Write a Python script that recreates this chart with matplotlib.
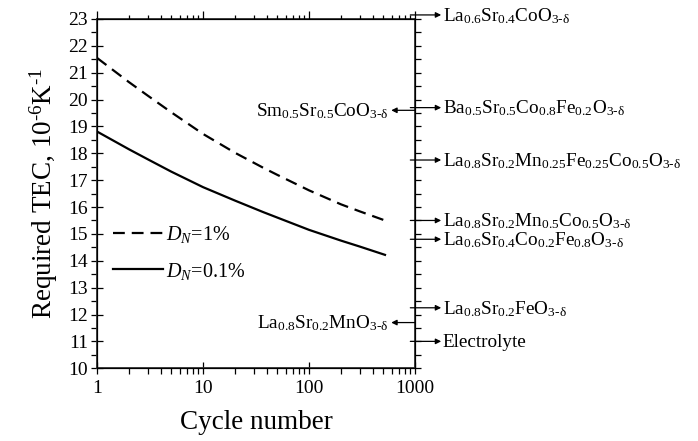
"""Required TEC vs cycle number, with cathode TEC markers on the right"""

import matplotlib
matplotlib.use("Agg")
import matplotlib.pyplot as plt
from matplotlib.ticker import MultipleLocator, LogLocator, NullFormatter, FixedLocator, FixedFormatter

plt.rcParams["font.family"] = ["Liberation Serif", "DejaVu Serif"]
plt.rcParams["mathtext.fontset"] = "custom"
plt.rcParams["mathtext.rm"] = "Liberation Serif"
plt.rcParams["mathtext.it"] = "Liberation Serif:italic"
plt.rcParams["mathtext.bf"] = "Liberation Serif:bold"
plt.rcParams["lines.scale_dashes"] = False

# curves
cycles = [1, 2, 3, 5, 10, 20, 37, 50, 100, 200, 300, 520]
tec_dn1 = [21.55, 20.65, 20.15, 19.53, 18.72, 18.02, 17.46, 17.2, 16.62, 16.1, 15.84, 15.5]
tec_dn01 = [18.81, 18.15, 17.78, 17.32, 16.74, 16.24, 15.81, 15.61, 15.15, 14.75, 14.53, 14.22]
series_labels = [r"$D_N$=1%", r"$D_N$=0.1%"]

# materials marked on the right axis (arrow pointing right)
right_names = [
    r"La$_{0.6}$Sr$_{0.4}$CoO$_{\text{3-δ}}$",
    r"Ba$_{0.5}$Sr$_{0.5}$Co$_{0.8}$Fe$_{0.2}$O$_{\text{3-δ}}$",
    r"La$_{0.8}$Sr$_{0.2}$Mn$_{0.25}$Fe$_{0.25}$Co$_{0.5}$O$_{\text{3-δ}}$",
    r"La$_{0.8}$Sr$_{0.2}$Mn$_{0.5}$Co$_{0.5}$O$_{\text{3-δ}}$",
    r"La$_{0.6}$Sr$_{0.4}$Co$_{0.2}$Fe$_{0.8}$O$_{\text{3-δ}}$",
    r"La$_{0.8}$Sr$_{0.2}$FeO$_{\text{3-δ}}$",
    "Electrolyte",
]
right_tec = [23.15, 19.7, 17.75, 15.5, 14.8, 12.25, 11.0]

# materials marked inside the plot (arrow pointing left)
left_names = [
    r"Sm$_{0.5}$Sr$_{0.5}$CoO$_{\text{3-δ}}$",
    r"La$_{0.8}$Sr$_{0.2}$MnO$_{\text{3-δ}}$",
]
left_tec = [19.6, 11.7]

yticks = list(range(10, 24))
xticks = [1, 10, 100, 1000]
xtick_labels = ["1", "10", "100", "1000"]

fig = plt.figure(figsize=(6.98, 4.41), dpi=100)
ax = fig.add_axes([0.139, 0.165, 0.4557, 0.792])

ax.plot(cycles, tec_dn1, color="black", lw=1.6, dashes=(8.5, 5), label=series_labels[0])
ax.plot(cycles, tec_dn01, color="black", lw=1.6, label=series_labels[1])

ax.set_xscale("log")
ax.set_xlim(1, 1000)
ax.set_ylim(10, 23)
ax.xaxis.set_major_locator(FixedLocator(xticks))
ax.xaxis.set_major_formatter(FixedFormatter(xtick_labels))
ax.xaxis.set_minor_locator(LogLocator(base=10, subs=range(2, 10)))
ax.xaxis.set_minor_formatter(NullFormatter())
ax.yaxis.set_major_locator(FixedLocator(yticks))
ax.yaxis.set_minor_locator(MultipleLocator(0.5))

for s in ax.spines.values():
    s.set_linewidth(1.3)
    s.set_color("#333333")

ax.tick_params(which="major", direction="inout", length=9, width=0.9, labelsize=14, colors="black")
ax.tick_params(which="minor", direction="out", length=4, width=0.9)
ax.tick_params(axis="x", pad=4)
ax.tick_params(axis="y", pad=2)

# top axis ticks
axt = ax.twiny()
axt.set_xscale("log")
axt.set_xlim(1, 1000)
axt.xaxis.set_major_locator(FixedLocator(xticks))
axt.xaxis.set_minor_locator(LogLocator(base=10, subs=range(2, 10)))
axt.xaxis.set_major_formatter(NullFormatter())
axt.xaxis.set_minor_formatter(NullFormatter())
axt.tick_params(which="major", direction="out", length=5.5, width=0.9)
axt.tick_params(which="minor", direction="out", length=3, width=0.9)

# right axis ticks
axr = ax.twinx()
axr.set_ylim(10, 23)
axr.yaxis.set_major_locator(MultipleLocator(0.5))
axr.yaxis.set_major_formatter(NullFormatter())
axr.tick_params(which="major", direction="out", length=4.5, width=0.9)

ax.set_xlabel("Cycle number", fontsize=19.5, labelpad=9)
ax.set_ylabel(r"Required TEC, 10$^{\text{-6}}$K$^{\text{-1}}$", fontsize=19.5, labelpad=6)

ax.legend(loc="center left", bbox_to_anchor=(0.025, 0.33), frameon=False,
          fontsize=14.5, handlelength=2.5, handletextpad=0.15, labelspacing=0.75,
          borderaxespad=0)

arrow = dict(arrowstyle="-|>", color="black", lw=0.9, mutation_scale=8,
             shrinkA=0, shrinkB=0)
blend = ax.get_yaxis_transform()

for name, val in zip(right_names, right_tec):
    ax.annotate("", xy=(1.082, val), xytext=(0.985, val), xycoords=blend,
                textcoords=blend, arrowprops=arrow, annotation_clip=False)
    ax.annotate(name, xy=(1.0, val), xycoords=blend, xytext=(20, -4.4),
                textcoords="offset points", ha="left", va="baseline",
                fontsize=13.8, annotation_clip=False)

for name, val in zip(left_names, left_tec):
    ax.annotate("", xy=(0.925, val), xytext=(1.0, val), xycoords=blend,
                textcoords=blend, arrowprops=arrow, annotation_clip=False)
    ax.annotate(name, xy=(0.92, val), xycoords=blend, xytext=(-1, -4.4),
                textcoords="offset points", ha="right", va="baseline",
                fontsize=13.8, annotation_clip=False)

fig.savefig("out.png", dpi=100)
